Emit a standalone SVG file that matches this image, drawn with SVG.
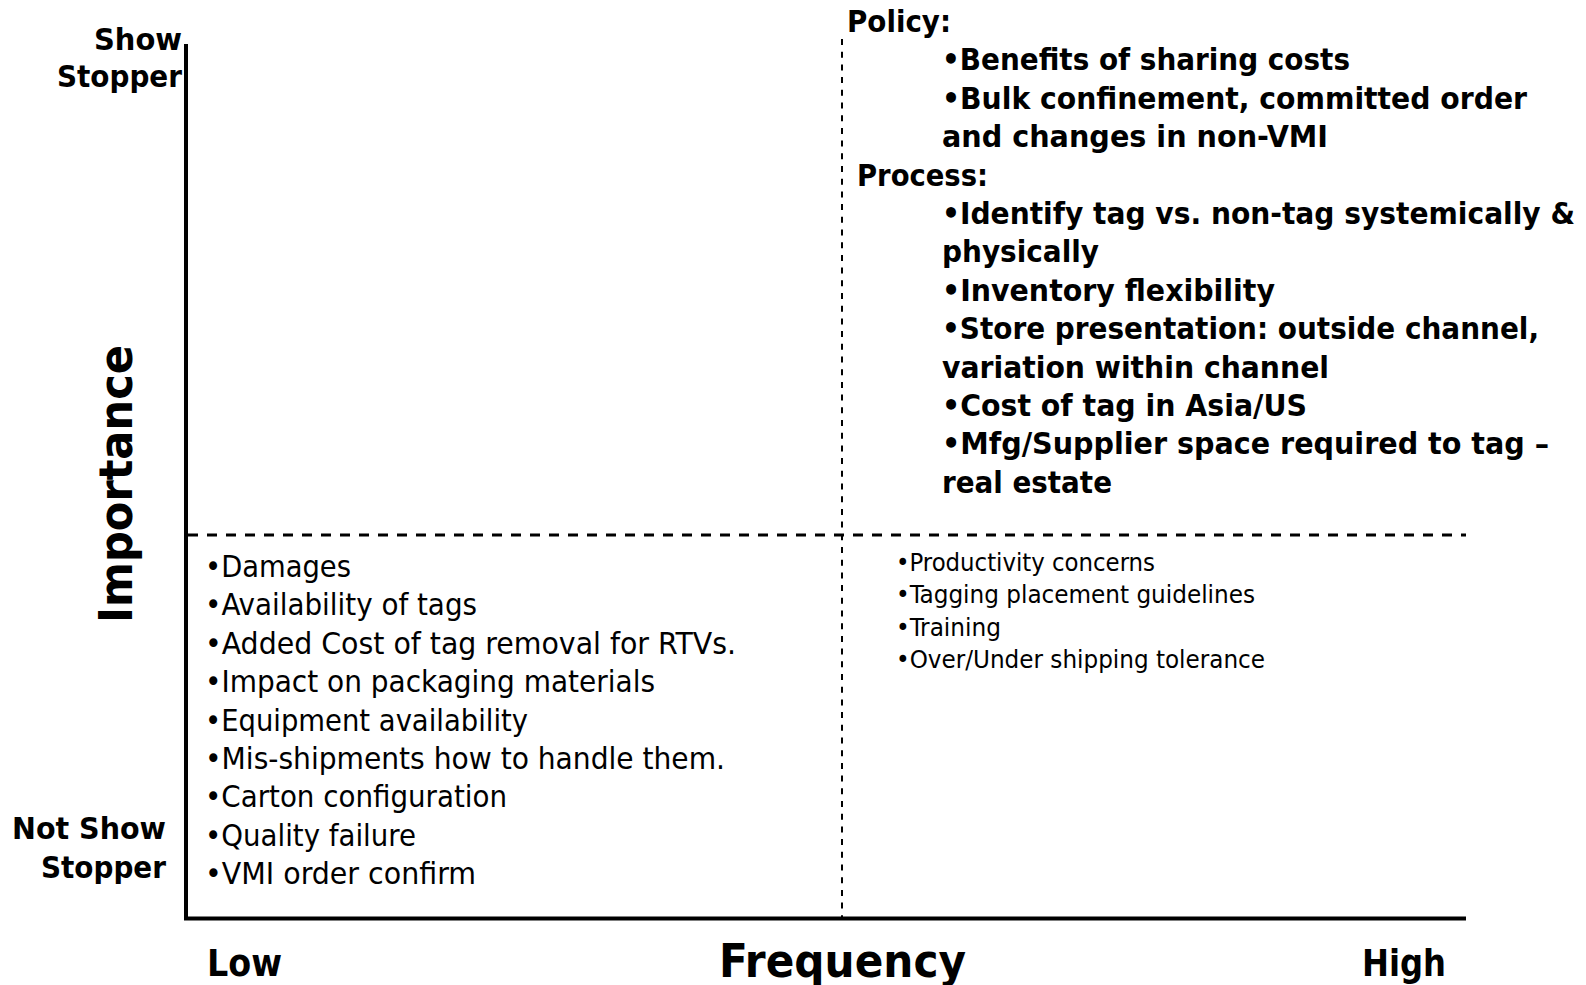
<svg xmlns="http://www.w3.org/2000/svg" width="1586" height="985" viewBox="0 0 1586 985">
<style>
  .t { font-family: "DejaVu Sans Condensed", "DejaVu Sans", "Liberation Sans", sans-serif; font-stretch: condensed; fill: #000; }
  .b { font-weight: bold; }
  .r30 { font-size: 30px; }
  .r25 { font-size: 25px; }
  .lab { font-size: 30px; font-weight: bold; }
  .lh { font-size: 38px; font-weight: bold; }
  .axis { stroke: #000; stroke-width: 4; fill: none; }
  .dash-h { stroke: #000; stroke-width: 3; fill: none; stroke-dasharray: 10 9; }
  .dash-v { stroke: #000; stroke-width: 2; fill: none; stroke-dasharray: 6 6.7; }
</style>
<rect width="1586" height="985" fill="#fff"/>
<g id="grid">
  <line class="dash-h" x1="188" y1="535" x2="1466" y2="535"/>
  <line class="dash-v" x1="842" y1="39" x2="842" y2="917"/>
</g>
<g id="axes">
  <polyline class="axis" points="186,44 186,918.5 1466,918.5"/>
</g>
<g id="y-labels">
  <text class="t lab" x="94" y="50" textLength="88" lengthAdjust="spacingAndGlyphs">Show</text>
  <text class="t lab" x="57" y="87" textLength="125" lengthAdjust="spacingAndGlyphs">Stopper</text>
  <text class="t lab" x="12" y="839" textLength="154" lengthAdjust="spacingAndGlyphs">Not Show</text>
  <text class="t lab" x="41" y="878" textLength="125" lengthAdjust="spacingAndGlyphs">Stopper</text>
  <text transform="translate(132,623) rotate(-90)" x="0" y="0" font-family="'DejaVu Sans', Verdana, sans-serif" font-weight="bold" font-size="46" textLength="278" lengthAdjust="spacingAndGlyphs">Importance</text>
</g>
<g id="x-labels">
  <text class="t lh" x="207" y="976" textLength="75" lengthAdjust="spacingAndGlyphs">Low</text>
  <text class="t b" font-size="47" x="719" y="977" textLength="247" lengthAdjust="spacingAndGlyphs">Frequency</text>
  <text class="t lh" x="1362" y="976" textLength="84" lengthAdjust="spacingAndGlyphs">High</text>
</g>
<g id="quadrant-high-high">
  <text class="t b r30" x="847" y="32" textLength="104" lengthAdjust="spacingAndGlyphs">Policy:</text>
  <text class="t b r30" x="942" y="70.4" textLength="408" lengthAdjust="spacingAndGlyphs">•Benefits of sharing costs</text>
  <text class="t b r30" x="942" y="108.8" textLength="585" lengthAdjust="spacingAndGlyphs">•Bulk confinement, committed order</text>
  <text class="t b r30" x="942" y="147.2" textLength="386" lengthAdjust="spacingAndGlyphs">and changes in non-VMI</text>
  <text class="t b r30" x="857" y="185.6" textLength="131" lengthAdjust="spacingAndGlyphs">Process:</text>
  <text class="t b r30" x="942" y="224" textLength="633" lengthAdjust="spacingAndGlyphs">•Identify tag vs. non-tag systemically &amp;</text>
  <text class="t b r30" x="942" y="262.4" textLength="157" lengthAdjust="spacingAndGlyphs">physically</text>
  <text class="t b r30" x="942" y="300.8" textLength="333" lengthAdjust="spacingAndGlyphs">•Inventory flexibility</text>
  <text class="t b r30" x="942" y="339.2" textLength="597" lengthAdjust="spacingAndGlyphs">•Store presentation: outside channel,</text>
  <text class="t b r30" x="942" y="377.6" textLength="387" lengthAdjust="spacingAndGlyphs">variation within channel</text>
  <text class="t b r30" x="942" y="416" textLength="365" lengthAdjust="spacingAndGlyphs">•Cost of tag in Asia/US</text>
  <text class="t b r30" x="942" y="454.4" textLength="607" lengthAdjust="spacingAndGlyphs">•Mfg/Supplier space required to tag –</text>
  <text class="t b r30" x="942" y="492.8" textLength="170" lengthAdjust="spacingAndGlyphs">real estate</text>
</g>
<g id="quadrant-low-low">
  <text class="t r30" x="205" y="577" textLength="146" lengthAdjust="spacingAndGlyphs">•Damages</text>
  <text class="t r30" x="205" y="615.4" textLength="272" lengthAdjust="spacingAndGlyphs">•Availability of tags</text>
  <text class="t r30" x="205" y="653.8" textLength="531" lengthAdjust="spacingAndGlyphs">•Added Cost of tag removal for RTVs.</text>
  <text class="t r30" x="205" y="692.2" textLength="450" lengthAdjust="spacingAndGlyphs">•Impact on packaging materials</text>
  <text class="t r30" x="205" y="730.6" textLength="323" lengthAdjust="spacingAndGlyphs">•Equipment availability</text>
  <text class="t r30" x="205" y="769" textLength="520" lengthAdjust="spacingAndGlyphs">•Mis-shipments how to handle them.</text>
  <text class="t r30" x="205" y="807.4" textLength="302" lengthAdjust="spacingAndGlyphs">•Carton configuration</text>
  <text class="t r30" x="205" y="845.8" textLength="211" lengthAdjust="spacingAndGlyphs">•Quality failure</text>
  <text class="t r30" x="205" y="884.2" textLength="271" lengthAdjust="spacingAndGlyphs">•VMI order confirm</text>
</g>
<g id="quadrant-low-high">
  <text class="t r25" x="896" y="571" textLength="259" lengthAdjust="spacingAndGlyphs">•Productivity concerns</text>
  <text class="t r25" x="896" y="603.4" textLength="359" lengthAdjust="spacingAndGlyphs">•Tagging placement guidelines</text>
  <text class="t r25" x="896" y="635.8" textLength="105" lengthAdjust="spacingAndGlyphs">•Training</text>
  <text class="t r25" x="896" y="668.2" textLength="369" lengthAdjust="spacingAndGlyphs">•Over/Under shipping tolerance</text>
</g>
</svg>
